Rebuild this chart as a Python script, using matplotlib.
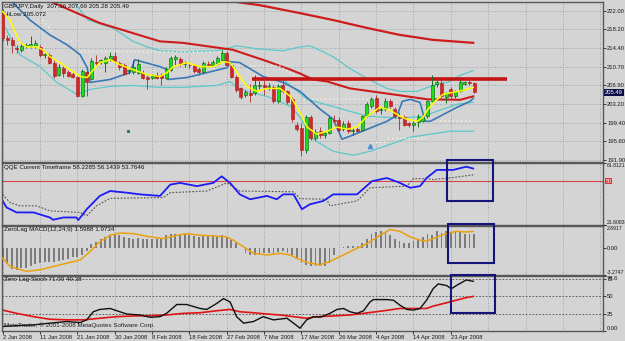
import matplotlib
matplotlib.use("Agg")
from matplotlib import pyplot as plt
from matplotlib.patches import Rectangle

plt.rcParams["font.family"] = ["Liberation Sans", "DejaVu Sans"]

W, H = 625, 341
BG = "#d4d4d4"
GRID = "#8c96a0"
LBL = 4.2

# GBPJPY daily candles, one entry per bar (bar 0 = 2 Jan 2008)
opens = [221.5, 216.4, 216.1, 214.5, 214.0, 214.9, 214.8, 214.8, 214.7, 213.0,
         213.1, 211.5, 209.1, 210.4, 209.7, 209.3, 208.6, 204.7, 209.6, 208.2,
         211.6, 211.7, 211.5, 212.3, 212.9, 211.5, 211.1, 209.8, 209.7, 209.5,
         209.5, 208.7, 208.5, 209.0, 209.1, 208.5, 210.1, 212.3, 212.3, 211.3,
         211.1, 210.9, 210.3, 209.7, 211.3, 211.0, 211.3, 212.1, 213.5, 211.1,
         208.7, 206.3, 205.0, 205.3, 205.3, 206.8, 206.9, 206.5, 206.5, 203.7,
         206.9, 205.7, 204.1, 199.0, 198.4, 193.8, 200.6, 196.2, 197.8, 196.8,
         197.3, 200.0, 200.0, 198.2, 199.4, 197.6, 198.2, 198.0, 201.0, 202.7,
         204.3, 201.9, 202.2, 203.7, 202.1, 200.6, 200.6, 199.3, 198.9, 199.5,
         199.8, 200.7, 203.7, 207.2, 207.4, 204.6, 206.1, 204.7, 205.7, 207.2,
         207.6, 207.36]
highs = [222.3, 217.1, 216.7, 215.0, 215.5, 215.4, 216.9, 216.1, 215.0, 213.7,
         213.4, 212.0, 211.3, 210.9, 210.0, 209.6, 208.9, 210.3, 210.2, 212.5,
         213.0, 212.3, 212.8, 213.6, 213.6, 211.8, 211.4, 210.3, 212.0, 212.3,
         210.0, 209.0, 209.2, 209.6, 209.4, 210.6, 212.9, 213.0, 212.7, 211.8,
         211.5, 211.3, 210.7, 211.8, 211.9, 212.1, 212.8, 214.0, 213.9, 211.4,
         209.0, 206.6, 206.0, 207.2, 209.0, 207.8, 208.3, 207.3, 207.0, 207.2,
         208.0, 206.0, 204.5, 199.6, 199.4, 201.0, 201.0, 198.2, 198.6, 197.7,
         200.8, 201.0, 200.6, 199.8, 199.9, 198.3, 198.6, 201.0, 203.6, 204.6,
         205.0, 202.6, 204.3, 204.1, 202.6, 201.5, 201.0, 199.6, 199.8, 201.2,
         200.8, 203.9, 209.1, 208.0, 208.0, 205.6, 206.5, 206.0, 207.9, 207.8,
         208.5, 207.69]
lows = [215.8, 215.1, 213.5, 213.5, 213.6, 214.4, 214.5, 214.5, 212.7, 212.5,
        211.2, 208.5, 208.8, 208.7, 208.6, 208.4, 204.5, 204.5, 204.7, 207.9,
        210.8, 211.3, 209.7, 211.8, 211.5, 210.0, 209.0, 209.3, 209.3, 209.2,
        208.3, 206.1, 208.2, 208.2, 206.9, 208.3, 209.9, 211.0, 210.9, 210.7,
        210.5, 209.5, 209.0, 209.4, 210.8, 210.8, 211.0, 211.9, 210.9, 208.4,
        205.6, 204.2, 204.5, 203.5, 205.0, 206.2, 205.0, 206.0, 203.4, 203.4,
        205.3, 203.2, 199.5, 197.7, 192.6, 193.3, 195.8, 195.9, 196.3, 196.2,
        197.0, 199.3, 197.5, 197.8, 197.2, 196.9, 197.4, 197.6, 200.6, 202.4,
        201.3, 201.2, 201.8, 202.3, 200.3, 198.0, 198.7, 198.6, 197.8, 198.5,
        199.5, 200.4, 203.5, 206.5, 204.3, 203.3, 204.4, 204.4, 205.5, 206.9,
        207.0, 205.28]
closes = [216.4, 216.0, 215.1, 214.3, 214.9, 215.0, 215.3, 215.5, 213.1, 213.3,
          211.5, 208.9, 210.7, 209.4, 208.9, 208.7, 204.7, 209.9, 207.6, 211.9,
          211.4, 212.1, 212.5, 212.9, 211.8, 210.7, 209.3, 209.9, 210.7, 211.3,
          208.5, 208.3, 208.9, 208.5, 208.5, 210.3, 212.5, 212.6, 211.3, 211.4,
          211.0, 209.9, 209.7, 211.5, 211.1, 211.7, 212.5, 213.5, 211.1, 208.7,
          205.9, 204.5, 205.5, 205.0, 206.9, 207.0, 206.5, 206.8, 203.7, 206.7,
          205.7, 203.5, 200.2, 198.2, 193.8, 200.6, 196.2, 197.5, 196.8, 197.3,
          200.3, 199.7, 198.0, 199.2, 197.7, 198.0, 197.8, 200.8, 203.2, 204.1,
          201.7, 202.2, 203.7, 202.7, 200.7, 200.4, 199.0, 198.9, 199.4, 200.6,
          200.5, 203.7, 206.9, 207.5, 204.7, 205.4, 204.7, 205.7, 207.6, 207.6,
          207.3, 205.49]

date_labels = ["2 Jan 2008", "11 Jan 2008", "21 Jan 2008", "30 Jan 2008",
               "8 Feb 2008", "18 Feb 2008", "27 Feb 2008", "7 Mar 2008",
               "17 Mar 2008", "26 Mar 2008", "4 Apr 2008", "14 Apr 2008",
               "23 Apr 2008"]
price_ticks = [222.00, 218.20, 214.40, 210.70, 206.90, 203.20, 199.40, 195.60, 191.90]

# price-panel indicator lines, read as (bar, price)
slow_ma_x = [47.0, 55.1, 63.7, 70.8, 78.1, 85.1, 92.2, 100.8]
slow_ma_y = [224.15, 223.1, 221.5, 220.1, 218.5, 217.1, 216.1, 215.5]
mid_ma_x = [9.5, 20.8, 33.7, 38.6, 49.3, 56.6, 61.6, 63.7, 66.5, 69.5, 74.4, 85.1, 91.0, 98.0, 100.8]
mid_ma_y = [224.15, 219.5, 215.8, 215.5, 214.1, 211.8, 210.1, 209.3, 208.1, 207.7, 206.3, 204.9, 204.1, 204.0, 204.7]
blue_x = [1.6, 5.85, 10.1, 13.8, 16.6, 18.1, 18.7, 23.0, 27.3, 28.3, 33.7, 35.2, 35.4, 39.5, 43.8, 48.1,
          48.7, 50.8, 55.8, 60.1, 63.7, 68.0, 70.8, 72.7, 74.4, 78.1, 82.3, 84.5, 85.6, 87.3, 89.4, 90.5,
          91.6, 97.3, 100.1, 100.8]
blue_y = [224.15, 220.1, 217.1, 215.1, 213.1, 210.5, 207.5, 208.1, 209.5, 212.1, 210.7, 210.1, 208.1,
          208.5, 209.5, 210.5, 211.7, 211.5, 208.7, 207.5, 205.7, 202.1, 200.1, 196.05, 196.65, 198.06,
          199.66, 200.87, 203.68, 204.08, 203.48, 199.66, 199.66, 202.47, 203.68, 204.3]
yellow_x = [0, 1.6, 3.7, 5.2, 7.3, 8.6, 10.1, 12.3, 14.4, 16.6, 18.1, 19.1, 20.8, 23.0, 25.1, 27.9, 30.9,
            33.7, 35.2, 36.5, 39.5, 42.3, 45.1, 47.2, 48.7, 50.2, 52.3, 54.5, 56.6, 59.4, 61.6, 63.7, 65.2,
            67.3, 69.5, 71.6, 73.8, 75.9, 78.1, 80.8, 83.0, 85.1, 86.6, 88.8, 90.1, 91.1, 92.6, 94.3, 96.5,
            98.6, 100.8]
yellow_y = [221.8, 220.1, 215.5, 214.7, 214.7, 214.1, 212.7, 211.5, 210.1, 208.7, 208.5, 209.7, 211.5,
            212.1, 211.1, 210.1, 209.1, 208.7, 209.5, 210.7, 211.5, 210.7, 210.7, 211.7, 211.5, 209.5,
            206.7, 205.7, 206.3, 206.3, 204.7, 201.5, 198.5, 197.05, 197.65, 198.5, 198.06, 198.5, 200.7,
            202.5, 201.9, 200.7, 200.07, 199.66, 200.5, 202.1, 203.7, 205.1, 205.5, 205.9, 206.5]
upper_x = [14.9, 18.3, 23.6, 27.9, 30.9, 33.7, 38.6, 45.9, 50.2, 54.5, 60.1, 63.7, 65.8, 67.3, 70.8, 74.4,
           78.1, 82.3, 85.1, 88.8, 92.2, 95.8, 97.9, 100.8]
upper_y = [224.15, 220.1, 218.5, 215.8, 214.7, 213.9, 213.7, 213.9, 214.9, 214.3, 213.9, 214.7, 214.9,
           214.3, 212.7, 210.3, 208.3, 206.3, 205.7, 205.7, 206.9, 207.7, 208.9, 209.9]
lower_x = [0, 3.7, 8.0, 11.6, 15.9, 18.7, 23.0, 27.9, 33.7, 38.6, 45.9, 48.7, 50.2, 53.0, 56.6, 61.6, 63.7,
           66.5, 70.8, 75.1, 78.7, 83.0, 87.3, 91.6, 95.8, 100.8]
lower_y = [219.5, 213.1, 210.7, 207.5, 205.1, 206.1, 206.7, 206.9, 206.5, 206.5, 206.9, 207.7, 206.5,
           205.5, 204.7, 202.7, 200.5, 196.05, 193.6, 192.8, 193.6, 195.0, 196.45, 197.05, 197.65, 197.65]
middle_x = [60.1, 65.2, 78.1, 85.1, 90.1, 97.3, 100.8]
middle_y = [208.1, 204.1, 200.7, 200.3, 200.7, 203.1, 203.5]
hilo_x = [8.6, 10.8, None, 11.9, 14.8, None, 16.6, 47.6, None, 53.0, 59.4, 61.6, 63.7, None, 64.5, 79.3,
          None, 79.0, 82.5, None, 82.5, 91.0, None, 93.7, 100.8]
hilo_y = [220.1, 217.5, None, 215.8, 215.8, None, 213.7, 213.7, None, 210.8, 210.8, 209.5, 208.1, None,
          204.1, 204.1, None, 195.4, 195.4, None, 196.2, 196.2, None, 199.7, 199.7]
resist_x = [53.5, 108.1]
resist_y = [208.3, 208.3]

# QQE panel
qqe_x = [0, 0.85, 3.0, 6.6, 10.1, 10.8, 13.0, 15.8, 16.2, 18.0, 20.8, 23.0, 26.6, 29.4, 33.7, 35.9, 38.0,
         41.6, 45.1, 46.9, 48.7, 50.8, 53.0, 56.6, 58.7, 60.1, 62.3, 64.1, 65.8, 68.7, 70.8, 75.9, 79.1,
         82.3, 85.1, 87.3, 89.4, 90.8, 93.0, 96.5, 99.3, 100.8]
qqe_y = [37.0, 32.7, 29.5, 29.5, 26.2, 24.7, 26.2, 26.2, 24.5, 31.6, 40.3, 43.5, 42.4, 41.3, 40.3, 47.7,
         48.8, 46.7, 48.8, 53.1, 48.8, 41.3, 38.1, 40.3, 38.1, 41.3, 41.3, 31.6, 34.8, 37.0, 41.3, 41.3,
         49.9, 52.0, 48.8, 45.6, 46.7, 52.0, 57.3, 57.3, 59.4, 58.2]
qqe_slow_x = [0, 1.6, 3.7, 7.3, 10.1, 16.6, 18.0, 20.1, 23.0, 34.4, 35.9, 43.7, 45.8, 48.0, 50.8, 62.3,
              63.7, 69.4, 70.1, 75.9, 78.7, 86.6, 88.0, 90.8, 92.2, 95.8, 100.8]
qqe_slow_y = [41.3, 35.9, 33.8, 33.8, 30.5, 29.5, 27.3, 33.8, 38.7, 39.2, 42.4, 43.5, 46.0, 48.8, 43.5,
              43.0, 38.5, 38.1, 33.8, 37.0, 45.6, 46.7, 51.6, 51.6, 51.0, 52.0, 54.1]

# ZeroLag MACD panel
macd_hist = [-1.3, -2.0, -2.6, -2.7, -2.5, -2.5, -2.2, -2.0, -1.9, -1.8,
             -1.7, -1.8, -1.6, -1.5, -1.4, -1.2, -1.1, -0.9, -0.4, 0.4,
             0.7, 1.1, 1.3, 1.5, 1.6, 1.5, 1.3, 1.2, 1.1, 1.2,
             1.1, 1.0, 1.0, 1.1, 1.2, 1.5, 1.65, 1.7, 1.7, 1.6,
             1.5, 1.4, 1.3, 1.4, 1.45, 1.5, 1.4, 1.5, 1.3, 0.9,
             0.5, -0.1, -0.6, -0.9, -0.9, -0.8, -0.7, -0.7, -0.8, -0.5,
             -0.45, -0.6, -0.9, -1.4, -1.9, -2.1, -2.2, -2.3, -2.3, -2.2,
             -1.9, -0.9, -0.1, 0.1, 0.15, 0.2, 0.2, 0.6, 1.1, 1.7,
             1.9, 2.0, 1.85, 1.5, 1.1, 0.8, 0.6, 0.6, 0.8, 0.9,
             1.3, 1.7, 1.5, 2.0, 1.75, 2.0, 1.9, 2.0, 1.85, 1.7,
             1.6, 1.6]
sig_x = [0, 1.6, 5.1, 8.0, 13.7, 16.6, 18.7, 20.8, 23.0, 25.1, 28.0, 31.6, 34.4, 37.3, 39.4, 42.3, 45.1,
         48.0, 49.4, 51.6, 53.7, 56.6, 59.4, 61.6, 63.7, 65.8, 68.0, 70.1, 73.0, 75.1, 78.1, 80.8, 83.0,
         85.1, 87.3, 89.4, 90.8, 92.2, 95.0, 97.2, 99.3, 100.8]
sig_y = [-1.3, -2.3, -2.9, -2.7, -1.9, -1.5, -0.5, 0.7, 1.5, 1.78, 1.7, 1.3, 1.1, 1.5, 1.7, 1.5, 1.42,
         1.3, 0.9, 0.1, -0.7, -0.9, -0.7, -0.9, -1.49, -1.89, -2.09, -1.69, -0.89, -0.3, 0.5, 1.5, 2.2,
         1.98, 1.3, 0.9, 0.78, 1.1, 1.7, 1.98, 1.9, 1.97]

# Zero Lag Stoch panel
k_x = [0, 2.3, 6.6, 10.1, 13.7, 16.6, 18.0, 19.4, 20.8, 23.0, 25.1, 26.6, 29.4, 31.6, 33.7, 35.1, 37.3,
       39.4, 42.3, 43.7, 45.8, 47.3, 48.7, 50.1, 51.6, 53.7, 55.8, 58.0, 60.9, 62.3, 63.7, 65.1, 66.6,
       68.0, 70.1, 71.6, 73.0, 74.4, 75.9, 77.3, 78.7, 79.4, 82.3, 83.7, 85.1, 86.6, 88.0, 89.4, 90.8,
       92.2, 93.3, 95.1, 96.1, 97.2, 99.3, 100.8]
k_y = [6.4, 7.4, 8.8, 11.2, 13.5, 12.1, 15.9, 27.5, 30.8, 32.2, 27.5, 24.3, 22.9, 19.6, 20.5, 25.2, 37.9,
       37.9, 32.2, 30.8, 39.2, 46.3, 41.6, 20.5, 11.2, 13.5, 20.5, 15.9, 18.2, 11.2, 4.0, 15.9, 20.5,
       19.6, 25.2, 30.8, 32.2, 27.5, 25.2, 28.9, 41.6, 44.9, 44.9, 44.0, 36.9, 30.8, 29.9, 32.2, 44.0,
       60.3, 67.3, 65.0, 60.3, 65.0, 72.9, 71.0]
d_x = [0, 3.0, 6.6, 10.1, 13.7, 17.3, 20.8, 24.4, 28.0, 31.6, 35.1, 38.7, 42.3, 45.8, 48.7, 50.8, 53.7,
       56.6, 59.4, 62.3, 65.1, 67.3, 70.8, 74.4, 77.3, 81.6, 85.1, 88.7, 90.8, 92.2, 95.8, 99.3, 100.8]
d_y = [29.9, 25.2, 20.5, 16.8, 15.9, 15.9, 18.2, 20.5, 21.5, 21.9, 22.9, 25.2, 26.1, 28.9, 30.8, 27.5,
       26.1, 24.3, 22.9, 20.5, 18.2, 20.5, 21.5, 22.9, 25.2, 28.9, 32.2, 32.2, 32.2, 35.5, 41.6, 47.7, 49.4]

fig = plt.figure(figsize=(W / 100, H / 100), dpi=100)
fig.patch.set_facecolor(BG)


def make_panel(top, bottom, ylim):
    ax = fig.add_axes([2 / W, 1 - bottom / H, 601 / W, (bottom - top) / H])
    ax.set_facecolor(BG)
    ax.set_xlim(-0.15, 128.6)
    ax.set_ylim(*ylim)
    for s in ax.spines.values():
        s.set_color("#585858")
        s.set_linewidth(1.0)
    ax.yaxis.tick_right()
    ax.tick_params(axis="y", direction="out", length=2.0, width=0.6, pad=1.0,
                   labelsize=LBL, colors="#1a1a1a")
    ax.tick_params(axis="x", bottom=False, labelbottom=False)
    for b in range(0, 129, 8):
        ax.axvline(b, color=GRID, lw=0.6, ls=(0, (1, 2)), zorder=0)
    return ax


def title(ax, text):
    ax.text(0.004, 0.975, text, transform=ax.transAxes, va="top", ha="left",
            fontsize=4.5, color="#101010")


def edge_labels(ax, first=0, last=-1, size=3.7):
    lbls = ax.get_yticklabels()
    lbls[first].set_va("top")
    lbls[last].set_va("bottom")
    for lb in lbls:
        if len(lb.get_text()) > 5:
            lb.set_fontsize(size)


# ---- price panel
ax = make_panel(2, 162, (191.44, 223.75))
ax.set_yticks(price_ticks)
ax.set_yticklabels([f"{v:.2f}" for v in price_ticks])
for v in price_ticks:
    ax.axhline(v, color=GRID, lw=0.6, ls=(0, (1, 2)), zorder=0)

ax.plot(lower_x, lower_y, color="#5cc8c8", lw=0.9)
ax.plot(upper_x, upper_y, color="#5cc8c8", lw=0.9)
ax.plot(middle_x, middle_y, color="#5cc8c8", lw=0.9)
ax.plot(slow_ma_x, slow_ma_y, color="#cc1c1c", lw=1.6)
ax.plot(mid_ma_x, mid_ma_y, color="#cc1c1c", lw=1.5)
ax.plot(hilo_x, hilo_y, color="#f4f4e0", lw=1.0, ls=(0, (1, 2)))
ax.plot(blue_x, blue_y, color="#3a78b8", lw=1.2)
ax.plot(resist_x, resist_y, color="#c41414", lw=2.6, solid_capstyle="butt")

for i, (o, h, l, c) in enumerate(zip(opens, highs, lows, closes)):
    up = c >= o
    face = "#18e018" if up else "#d02828"
    edge = "#0c5c0c" if up else "#a81818"
    wick = "#1a6a1a" if up else "#b04040"
    ax.vlines(i, l, h, color=wick, lw=0.7, zorder=3)
    body = max(abs(c - o), 0.12)
    ax.add_patch(Rectangle((i - 0.32, min(o, c)), 0.64, body, facecolor=face,
                           edgecolor=edge, lw=0.4, zorder=4))

ax.plot(yellow_x, yellow_y, color="#ffff00", lw=1.1, zorder=5)
ax.plot([78.7], [194.6], marker="^", ms=3, color="#4a90d8", zorder=5)
ax.plot([26.8], [197.65], marker="s", ms=1.2, color="#2a7070", zorder=5)

ax.text(1.003, 205.49, "205.49", transform=ax.get_yaxis_transform(), va="center",
        ha="left", fontsize=LBL, color="white",
        bbox=dict(boxstyle="square,pad=0.15", facecolor="#0c0c48", edgecolor="none"))
ax.text(0.004, 0.985, "GBPJPY,Daily  207.36 207.69 205.28 205.49", transform=ax.transAxes,
        va="top", ha="left", fontsize=4.5, color="#101010")
ax.text(0.004, 0.94, "HiLow 205.072", transform=ax.transAxes, va="top", ha="left",
        fontsize=4.5, color="#101010")

# ---- QQE panel
ax = make_panel(163, 224.5, (21.61, 61.81))
ax.set_yticks([61.8121, 21.6083])
ax.set_yticklabels(["61.8121", "21.6083"])
edge_labels(ax)
ax.axhline(50, color="#d84848", lw=0.8)
ax.plot(qqe_slow_x, qqe_slow_y, color="#505050", lw=0.8, ls=(0, (1.5, 1.5)))
ax.plot(qqe_x, qqe_y, color="#1c1cf4", lw=1.3)
ax.text(1.004, 50, "50", transform=ax.get_yaxis_transform(), va="center", ha="left",
        fontsize=4.0, color="white",
        bbox=dict(boxstyle="square,pad=0.12", facecolor="#e03434", edgecolor="none"))
ax.add_patch(Rectangle((95.1, 36.7), 10.0, 27.0, fill=False, edgecolor="#14147a",
                       lw=1.5, clip_on=False, zorder=6))
title(ax, "QQE Current Timeframe 58.2285 56.1439 53.7646")

# ---- MACD panel
ax = make_panel(225.5, 274.5, (-3.2747, 2.6917))
ax.set_yticks([2.6917, 0.0, -3.2747])
ax.set_yticklabels(["2.6917", "0.00", "-3.2747"])
edge_labels(ax)
ax.bar(range(len(macd_hist)), macd_hist, width=0.4, color="#7c7c7c", zorder=2)
ax.plot(sig_x, sig_y, color="#eca010", lw=1.1, zorder=3)
ax.add_patch(Rectangle((95.5, -1.88), 9.8, 4.7, fill=False, edgecolor="#14147a",
                       lw=1.5, clip_on=False, zorder=6))
title(ax, "ZeroLag MACD(12,24,9) 1.5988 1.9734")

# ---- Stoch panel
ax = make_panel(276, 331, (0, 78.6))
ax.set_yticks([78.6, 75, 50, 25, 0])
ax.set_yticklabels(["78.6", "75", "50", "25", "0.00"])
edge_labels(ax)
for lvl in (25, 50, 75):
    ax.axhline(lvl, color="#4a4a4a", lw=0.6, ls=(0, (2, 2)))
ax.plot(d_x, d_y, color="#e01414", lw=1.2)
ax.plot(k_x, k_y, color="#101010", lw=1.0)
ax.add_patch(Rectangle((96.0, 25.3), 9.5, 55.0, fill=False, edgecolor="#14147a",
                       lw=1.5, clip_on=False, zorder=6))
title(ax, "Zero Lag Stoch 71.00 49.38")
ax.text(0.004, 0.06, "MetaTrader, \u00a9 2001-2008 MetaQuotes Software Corp.",
        transform=ax.transAxes, va="bottom", ha="left", fontsize=4.5, color="#202020")
ax.set_xticks(range(0, 97, 8))
ax.set_xticklabels(date_labels, ha="left")
ax.tick_params(axis="x", bottom=True, labelbottom=True, length=2, width=0.6, pad=1,
               labelsize=LBL, colors="#1a1a1a")

fig.savefig("out.png", dpi=100, facecolor=BG)
